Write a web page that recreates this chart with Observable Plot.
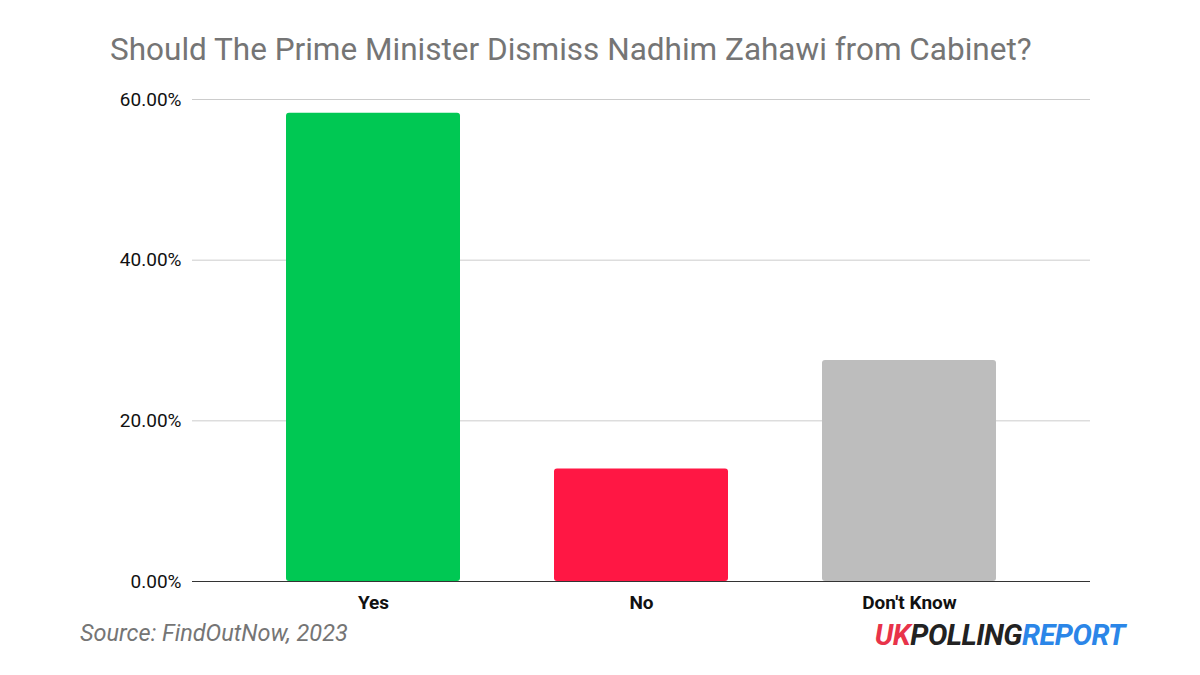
<!DOCTYPE html>
<html>
<head>
<meta charset="utf-8">
<script src="https://cdn.jsdelivr.net/npm/d3@7"></script>
<script src="https://cdn.jsdelivr.net/npm/@observablehq/plot@0.6"></script>
<style>
  html, body { margin: 0; padding: 0; background: #fff; }
  #wrap { position: relative; width: 1200px; height: 675px; overflow: hidden; font-family: Roboto, sans-serif; }
  #title { position: absolute; left: 110px; top: 31px; font-size: 31.5px; line-height: 38px; color: #757575; white-space: nowrap; }
  #source { position: absolute; left: 80px; top: 618px; font-size: 23.5px; line-height: 30px; font-style: italic; color: #757575; }
  #logo { position: absolute; right: 75px; top: 618px; font-size: 29px; line-height: 34px; font-weight: 700; font-style: italic; letter-spacing: -0.5px; }
  #chart { position: absolute; left: 0; top: 0; }
</style>
</head>
<body>
<div id="wrap">
  <div id="chart"></div>
  <div id="title">Should The Prime Minister Dismiss Nadhim Zahawi from Cabinet?</div>
  <div id="source">Source: FindOutNow, 2023</div>
  <div id="logo"><span style="color:#e8334a">UK</span><span style="color:#222">POLLING</span><span style="color:#2b86e8">REPORT</span></div>
</div>
<script>
const categories = ["Yes", "No", "Don't Know"];
const values = [0.583, 0.140, 0.275];
const colors = ["#00c853", "#ff1744", "#bdbdbd"];
const yTicks = [0, 0.2, 0.4, 0.6];

const data = categories.map((c, i) => ({category: c, value: values[i]}));

const chart = Plot.plot({
  width: 1200,
  height: 675,
  marginTop: 99,
  marginBottom: 94,
  marginLeft: 192,
  marginRight: 110,
  style: {fontFamily: "Roboto, sans-serif", fontSize: "19px", color: "#000", background: "transparent"},
  x: {domain: categories, padding: 0.35, label: null},
  y: {domain: [0, 0.6], label: null},
  color: {domain: categories, range: colors},
  marks: [
    Plot.gridY(yTicks, {stroke: "#cccccc", strokeOpacity: 1, strokeWidth: 1}),
    Plot.axisY(yTicks, {tickSize: 0, tickPadding: 11, tickFormat: d => d3.format(".2%")(d), fontSize: 19, fill: "#111", label: null}),
    Plot.axisX({tickSize: 0, tickPadding: 14, fontSize: 19, fontWeight: "bold", fill: "#111", label: null}),
    Plot.barY(data, {x: "category", y: "value", fill: "category", rx: 3}),
    Plot.ruleY([0], {stroke: "#333", strokeWidth: 1})
  ]
});
document.getElementById("chart").appendChild(chart);
</script>
</body>
</html>
